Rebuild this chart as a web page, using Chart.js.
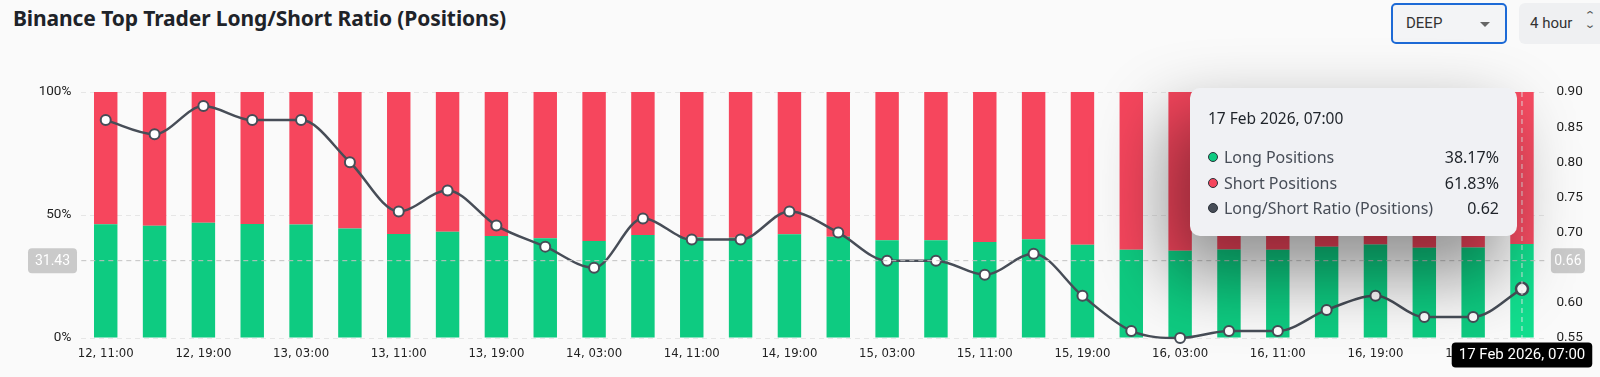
<!DOCTYPE html>
<html>
<head>
<meta charset="utf-8">
<script src="https://cdn.jsdelivr.net/npm/chart.js@4.4.1/dist/chart.umd.min.js"></script>
<style>
  body { margin: 0; background: #fafafa; width: 1600px; height: 377px; overflow: hidden; position: relative; font-family: "Noto Sans", sans-serif; }
  .title { position: absolute; left: 13px; top: 4px; font-size: 21px; font-weight: 700; color: #1e2329; letter-spacing: -0.1px; }
  .deep { position: absolute; left: 1391px; top: 3px; width: 112px; height: 37px; border: 2px solid #1d6ad6; border-radius: 5px; background: #f3f4f6; font-family: Roboto, sans-serif; font-size: 15px; color: #333; }
  .deep span { position: absolute; left: 13px; top: 9px; }
  .deep i { position: absolute; right: 15px; top: 17px; width: 0; height: 0; border-left: 5px solid transparent; border-right: 5px solid transparent; border-top: 5px solid #666; }
  .tf { position: absolute; left: 1519px; top: 3px; width: 100px; height: 41px; border-radius: 6px; background: #eff0f2; font-family: Roboto, sans-serif; font-size: 15px; color: #333; }
  .tf span { position: absolute; left: 11px; top: 11px; }
  .tf b { position: absolute; left: 66px; top: 8px; font-weight: 400; font-size: 11px; line-height: 9px; color: #555; transform: scaleX(1.3); }
  canvas { position: absolute; left: 0; top: 0; }
  #tip { position: absolute; background: #f0f1f4; border-radius: 10px; box-shadow: -18px 34px 70px 6px rgba(0,0,0,0.42); font-family: "Noto Sans", sans-serif; color: #474d57; pointer-events: none; }
  #tip .t { position: absolute; left: 18px; top: 19px; font-size: 15.5px; color: #1e2329; }
  #tip .r { position: absolute; left: 18px; right: 18px; height: 22px; font-size: 16px; line-height: 22px; }
  #tip .r .d { position: absolute; left: 0; top: 6px; width: 8px; height: 8px; border-radius: 50%; border: 1.5px solid #2b3139; }
  #tip .r .l { position: absolute; left: 16px; }
  #tip .r .v { position: absolute; right: 0; color: #1e2329; }
</style>
</head>
<body>
<div class="title">Binance Top Trader Long/Short Ratio (Positions)</div>
<div class="deep"><span>DEEP</span><i></i></div>
<div class="tf"><span>4 hour</span><b>&#8963;<br>&#8964;</b></div>
<canvas id="chart" width="1600" height="377"></canvas>
<div id="tip"></div>
<script>
// 4 hour buckets, 12 Feb 11:00 -> 17 Feb 07:00
const categories = [
  "12, 11:00", "12, 15:00", "12, 19:00", "12, 23:00",
  "13, 03:00", "13, 07:00", "13, 11:00", "13, 15:00", "13, 19:00", "13, 23:00",
  "14, 03:00", "14, 07:00", "14, 11:00", "14, 15:00", "14, 19:00", "14, 23:00",
  "15, 03:00", "15, 07:00", "15, 11:00", "15, 15:00", "15, 19:00", "15, 23:00",
  "16, 03:00", "16, 07:00", "16, 11:00", "16, 15:00", "16, 19:00", "16, 23:00",
  "17, 03:00", "17, 07:00"
];
const longPct = [
  46.21, 45.62, 46.83, 46.30, 46.18, 44.47, 42.26, 43.15, 41.49, 40.52,
  39.41, 41.88, 40.87, 40.79, 42.14, 41.12, 39.70, 39.74, 39.05, 40.16,
  37.93, 35.86, 35.43, 35.95, 35.88, 37.12, 37.97, 36.68, 36.74, 38.17
];
const shortPct = [
  53.79, 54.38, 53.17, 53.70, 53.82, 55.53, 57.74, 56.85, 58.51, 59.48,
  60.59, 58.12, 59.13, 59.21, 57.86, 58.88, 60.30, 60.26, 60.95, 59.84,
  62.07, 64.14, 64.57, 64.05, 64.12, 62.88, 62.03, 63.32, 63.26, 61.83
];
const lsRatio = [
  0.86, 0.84, 0.88, 0.86, 0.86, 0.80, 0.73, 0.76, 0.71, 0.68,
  0.65, 0.72, 0.69, 0.69, 0.73, 0.70, 0.66, 0.66, 0.64, 0.67,
  0.61, 0.56, 0.55, 0.56, 0.56, 0.59, 0.61, 0.58, 0.58, 0.62
];
const pctTicks = [0, 50, 100];
const ratioTicks = [0.55, 0.60, 0.65, 0.70, 0.75, 0.80, 0.85, 0.90];

const hoverIndex = categories.length - 1;
const hoverPct = 31.43; // mouse position on the left axis

const GREEN = "#0ECB81", RED = "#F6465D", LINE = "#474D57";

const fullDate = (i) => {
  const [d, t] = categories[i].split(", ");
  return `${d} Feb 2026, ${t}`;
};

const roundRect = (ctx, x, y, w, h, r, fill) => {
  ctx.beginPath();
  ctx.roundRect(x, y, w, h, r);
  ctx.fillStyle = fill;
  ctx.fill();
};

// crosshair with axis value labels
const crosshair = {
  id: "crosshair",
  afterDatasetsDraw(chart) {
    const { ctx, chartArea, scales } = chart;
    const x = scales.x.getPixelForValue(hoverIndex);
    const y = scales.y.getPixelForValue(hoverPct);
    ctx.save();
    ctx.lineWidth = 1;
    ctx.setLineDash([5, 4]);
    ctx.strokeStyle = "#c2c2c2";
    ctx.beginPath();
    ctx.moveTo(chartArea.left, y);
    ctx.lineTo(chartArea.right, y);
    ctx.stroke();
    ctx.strokeStyle = "rgba(235,235,235,0.9)";
    ctx.beginPath();
    ctx.moveTo(x, chartArea.top);
    ctx.lineTo(x, chartArea.bottom);
    ctx.stroke();
    ctx.restore();
  },
  afterDraw(chart) {
    const { ctx, chartArea, scales } = chart;
    const x = scales.x.getPixelForValue(hoverIndex);
    const y = scales.y.getPixelForValue(hoverPct);
    const r = scales.y1.getValueForPixel(y);
    ctx.save();
    ctx.textAlign = "center";
    ctx.textBaseline = "middle";
    ctx.font = "14px Roboto";
    roundRect(ctx, 28, y - 12.5, 49, 25, 4, "#cacaca");
    ctx.fillStyle = "#fff";
    ctx.fillText(hoverPct.toFixed(2), 52.5, y + 1);
    roundRect(ctx, chartArea.right + 4.5, y - 12.5, 34, 25, 4, "#cacaca");
    ctx.fillStyle = "#fff";
    ctx.fillText(r.toFixed(2), chartArea.right + 21.5, y + 1);
    ctx.font = "15px Roboto";
    const label = fullDate(hoverIndex);
    const w = ctx.measureText(label).width + 14;
    roundRect(ctx, x - w / 2, chartArea.bottom + 4.5, w, 25, 4, "#000");
    ctx.fillStyle = "#fff";
    ctx.fillText(label, x, chartArea.bottom + 17.5);
    ctx.restore();
  }
};

const externalTooltip = (context) => {
  const { chart, tooltip } = context;
  const el = document.getElementById("tip");
  if (tooltip.opacity === 0 || !tooltip.dataPoints) { el.style.display = "none"; return; }
  const dots = [LINE, GREEN, RED]; // by dataset index
  let html = `<div class="t">${fullDate(tooltip.dataPoints[0].dataIndex)}</div>`;
  tooltip.dataPoints.forEach((p, k) => {
    const val = p.dataset.yAxisID === "y1" ? p.raw.toFixed(2) : p.raw.toFixed(2) + "%";
    html += `<div class="r" style="top:${58 + k * 25.5}px"><span class="d" style="background:${dots[p.datasetIndex]}"></span>` +
      `<span class="l">${p.dataset.label}</span><span class="v">${val}</span></div>`;
  });
  el.innerHTML = html;
  const w = 327, h = 148;
  el.style.display = "block";
  el.style.width = w + "px";
  el.style.height = h + "px";
  el.style.left = (tooltip.caretX - w - 5) + "px";
  el.style.top = (chart.chartArea.top - 4) + "px";
};

const chart = new Chart(document.getElementById("chart"), {
  data: {
    labels: categories,
    datasets: [
      {
        type: "line",
        label: "Long/Short Ratio (Positions)",
        data: lsRatio,
        yAxisID: "y1",
        order: 0,
        clip: false,
        borderColor: LINE,
        borderWidth: 2.5,
        cubicInterpolationMode: "monotone",
        pointRadius: 5,
        pointHoverRadius: 6,
        pointBackgroundColor: "#fff",
        pointHoverBackgroundColor: "#fff",
        pointBorderColor: LINE,
        pointHoverBorderColor: LINE,
        pointBorderWidth: 2,
        pointHoverBorderWidth: 2.5
      },
      {
        type: "bar",
        label: "Long Positions",
        data: longPct,
        yAxisID: "y",
        order: 1,
        stack: "pos",
        backgroundColor: GREEN,
        hoverBackgroundColor: "#12DE8E",
        barPercentage: 0.6,
        categoryPercentage: 0.8
      },
      {
        type: "bar",
        label: "Short Positions",
        data: shortPct,
        yAxisID: "y",
        order: 2,
        stack: "pos",
        backgroundColor: RED,
        hoverBackgroundColor: "#F84D63",
        barPercentage: 0.6,
        categoryPercentage: 0.8
      }
    ]
  },
  options: {
    responsive: false,
    animation: false,
    events: [],
    layout: { padding: { top: 92, left: 0, right: 0, bottom: 0 } },
    interaction: { mode: "index", intersect: false },
    plugins: {
      legend: { display: false },
      tooltip: { enabled: false, external: externalTooltip, itemSort: (a, b) => a.datasetIndex === 0 ? 1 : b.datasetIndex === 0 ? -1 : a.datasetIndex - b.datasetIndex }
    },
    scales: {
      x: {
        stacked: true,
        grid: { display: false, drawTicks: false },
        border: { display: false },
        ticks: {
          autoSkip: false,
          maxRotation: 0,
          padding: 8,
          color: "#222",
          font: { family: "'Liberation Sans Narrow', 'DejaVu Sans Condensed', sans-serif", size: 13 },
          callback: (v, i) => (i % 2 === 0 ? categories[i] : "")
        },
        afterFit: (s) => { s.height = 39; }
      },
      y: {
        stacked: true,
        position: "left",
        min: 0,
        max: 100,
        afterBuildTicks: (s) => { s.ticks = pctTicks.map((v) => ({ value: v })); },
        grid: { color: "#e6e6e6", drawTicks: false },
        border: { display: false, dash: [5, 4] },
        ticks: { padding: 10, color: "#222", font: { family: "Roboto", size: 13.5 }, callback: (v) => v + "%" },
        afterFit: (s) => { s.width = 81.3; }
      },
      y1: {
        position: "right",
        min: 0.55,
        max: 0.9,
        afterBuildTicks: (s) => { s.ticks = ratioTicks.map((v) => ({ value: v })); },
        grid: { display: false, drawTicks: false },
        border: { display: false },
        ticks: { padding: 10, color: "#222", font: { family: "Roboto", size: 13.5 }, callback: (v) => v.toFixed(2) },
        afterFit: (s) => { s.width = 53.6; }
      }
    }
  },
  plugins: [crosshair]
});

// show the hovered state of the last bucket
const active = [0, 1, 2].map((d) => ({ datasetIndex: d, index: hoverIndex }));
chart.setActiveElements(active);
const px = chart.scales.x.getPixelForValue(hoverIndex);
chart.tooltip.setActiveElements(active, { x: px, y: chart.scales.y.getPixelForValue(hoverPct) });
chart.update("none");
</script>
</body>
</html>
